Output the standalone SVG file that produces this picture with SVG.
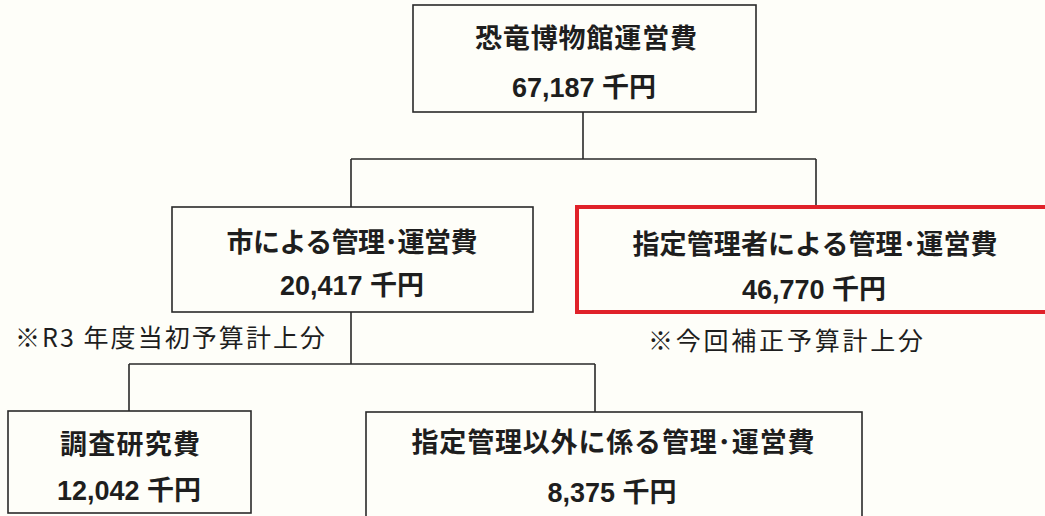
<svg xmlns="http://www.w3.org/2000/svg" width="1045" height="516" viewBox="0 0 1045 516">
<style>
.box{fill:none;stroke:#2a2a2a;stroke-width:1.6}
.red{fill:none;stroke:#e0222a;stroke-width:4}
.ln{fill:none;stroke:#2a2a2a;stroke-width:1.6}
.t{font-family:"Liberation Sans","Noto Sans CJK JP",sans-serif;font-weight:bold;font-size:27px;fill:#1e1e1e;text-anchor:middle;dominant-baseline:central}
.n{font-family:"Noto Sans CJK JP",sans-serif;font-size:25px;fill:#1e1e1e;dominant-baseline:central}
</style>
<rect width="1045" height="516" fill="#fefef9"/>
<g id="connectors">
<path class="ln" d="M583 112V159M351 159H816M351 159V207M816 159V205"/>
<path class="ln" d="M351 312V364M129 364H595M129 364V411M595 364V412"/>
</g>
<g id="root">
<rect class="box" x="413" y="5" width="343" height="107"/>
<text class="t" x="586" y="39" textLength="222" lengthAdjust="spacing">恐竜博物館運営費</text>
<text class="t" x="584" y="88">67,187 千円</text>
</g>
<g id="city">
<rect class="box" x="172" y="207" width="361" height="105"/>
<text class="t" x="352" y="243" textLength="251" lengthAdjust="spacing">市による管理･運営費</text>
<text class="t" x="352" y="286">20,417 千円</text>
</g>
<g id="designated">
<rect class="red" x="577" y="207" width="480" height="105"/>
<text class="t" x="815" y="245" textLength="365" lengthAdjust="spacing">指定管理者による管理･運営費</text>
<text class="t" x="814" y="290">46,770 千円</text>
</g>
<g id="research">
<rect class="box" x="8" y="411" width="243" height="102"/>
<text class="t" x="130" y="445" textLength="140" lengthAdjust="spacing">調査研究費</text>
<text class="t" x="129" y="491">12,042 千円</text>
</g>
<g id="other">
<rect class="box" x="366" y="412" width="496" height="120"/>
<text class="t" x="613" y="443" textLength="403" lengthAdjust="spacing">指定管理以外に係る管理･運営費</text>
<text class="t" x="612" y="493">8,375 千円</text>
</g>
<g id="notes">
<text class="n" x="15" y="336" textLength="310" lengthAdjust="spacing">※R3 年度当初予算計上分</text>
<text class="n" x="648" y="339" textLength="275" lengthAdjust="spacing">※今回補正予算計上分</text>
</g>
</svg>
